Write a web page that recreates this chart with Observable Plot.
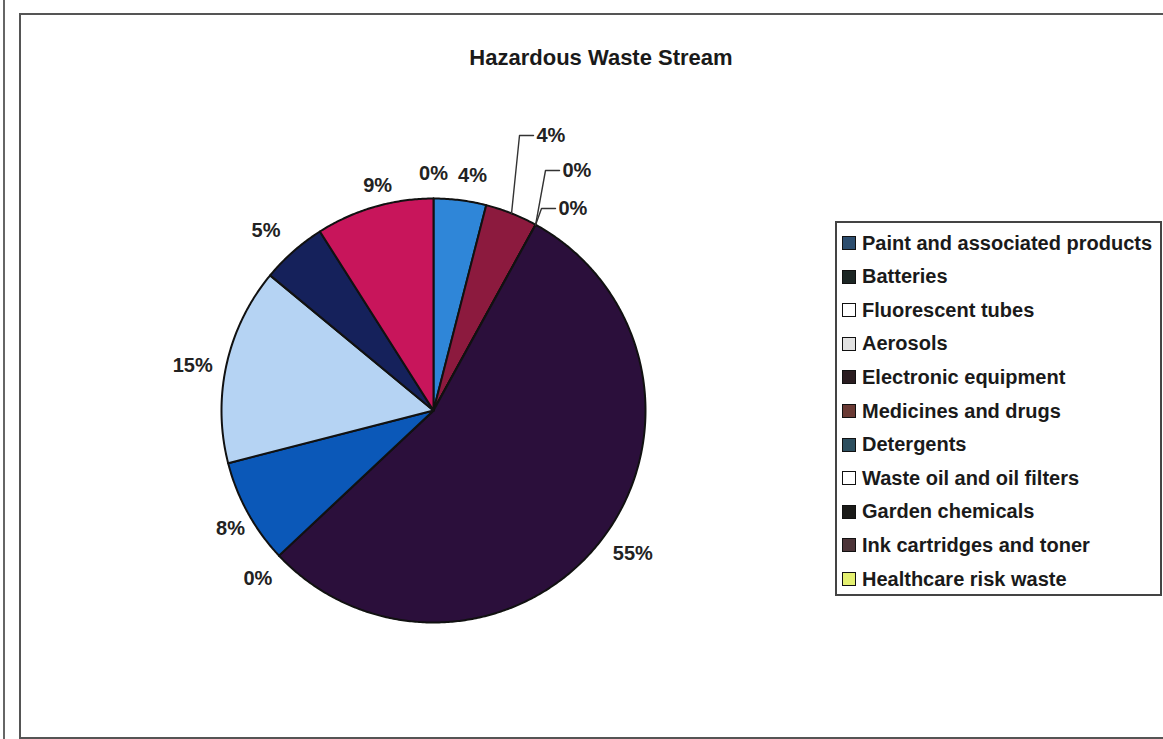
<!DOCTYPE html>
<html>
<head>
<meta charset="utf-8">
<script src="https://cdn.jsdelivr.net/npm/d3@7"></script>
<script src="https://cdn.jsdelivr.net/npm/@observablehq/plot@0.6"></script>
<style>
  html, body { margin: 0; padding: 0; background: #fff; }
  body { font-family: "Liberation Sans", Arial, sans-serif; }
  #wrap { position: relative; width: 1163px; height: 739px; overflow: hidden; background: #fff; }
  #leftline { position: absolute; left: 3px; top: 0; width: 0; height: 739px; border-left: 2px solid #666; }
  #box { position: absolute; left: 19px; top: 13px; width: 1200px; height: 722px; border-left: 2px solid #555; border-top: 2px solid #555; border-bottom: 2px solid #555; }
  #title { position: absolute; left: 0; width: 1202px; top: 45px; text-align: center; font-weight: bold; font-size: 22px; color: #1a1a1a; }
  #chart { position: absolute; left: 0; top: 0; }
  #legend { position: absolute; left: 835px; top: 221px; width: 323px; height: 371px; border: 2px solid #444; background: #fff; }
  .row { position: absolute; left: 5px; height: 34px; display: flex; align-items: center; font-weight: bold; font-size: 20px; color: #1a1a1a; white-space: nowrap; }
  .sw { width: 12px; height: 12px; margin-right: 6px; border: 1.5px solid #111; box-sizing: content-box; }
</style>
</head>
<body>
<div id="wrap">
  <div id="leftline"></div>
  <div id="box"></div>
  <div id="chart"></div>
  <div id="title">Hazardous Waste Stream</div>
  <div id="legend"></div>
</div>
<script>
// ---- data ----
const categories = [
  "Paint and associated products",
  "Batteries",
  "Fluorescent tubes",
  "Aerosols",
  "Electronic equipment",
  "Medicines and drugs",
  "Detergents",
  "Waste oil and oil filters",
  "Garden chemicals",
  "Ink cartridges and toner",
  "Healthcare risk waste"
];
const shares = [0, 4, 4, 0, 0, 55, 0, 8, 15, 5, 9];
const shareLabels = ["0%", "4%", "4%", "0%", "0%", "55%", "0%", "8%", "15%", "5%", "9%"];
const sliceColors = ["#2a4a6c", "#2f86d8", "#8c1a3e", "#d8d8d8", "#2a1a24", "#2b0f3b", "#2a4a5c", "#0b58b8", "#b5d3f3", "#15215b", "#c8155b"];
const legendColors = ["#2c4d6e", "#1c2624", "#ffffff", "#e2e2e2", "#2a1c20", "#6a3a34", "#2c4e5e", "#ffffff", "#1a1a18", "#4c3438", "#e4f070"];

// ---- layout constants ----
const W = 1163, H = 739, CX = 433, CY = 410, R = 212;
const labelRadius = 1.13;
const calloutIdx = [2, 3, 4];
// elbow offsets (px from pie centre) for the small slices labelled with leader lines
const calloutElbow = {2: [86, -275], 3: [112, -240], 4: [108, -202]};
const calloutLen = 14;
// small label nudges (px) mimicking the spreadsheet's label placement
const labelNudge = {0: [0, 3], 1: [9, 3], 5: [10, -4], 6: [-1, 4], 7: [7, 3], 8: [-7, 7], 9: [-9, 0], 10: [11, 5]};

// ---- geometry from data ----
const table = categories.map((name, i) => ({name, value: shares[i], label: shareLabels[i], i}));
const arcs = d3.pie().sort(null).value(d => d.value).startAngle(0).endAngle(2 * Math.PI)(table);

const slicePts = [];
arcs.forEach(a => {
  const name = a.data.name;
  slicePts.push({name, x: 0, y: 0});
  const span = a.endAngle - a.startAngle;
  const n = Math.max(1, Math.ceil(span / (Math.PI / 360)));
  for (let k = 0; k <= n; k++) {
    const t = a.startAngle + span * k / n;
    slicePts.push({name, x: Math.sin(t), y: Math.cos(t)});
  }
});

const labels = [], calloutLabels = [], leaderPts = [];
arcs.forEach(a => {
  const i = a.data.i;
  const mid = (a.startAngle + a.endAngle) / 2;
  if (calloutIdx.includes(i)) {
    const [ex, ey] = calloutElbow[i];
    const edge = {x: Math.sin(mid) * 1.0, y: Math.cos(mid) * 1.0};
    const elbow = {x: ex / R, y: -ey / R};
    const end = {x: (ex + calloutLen) / R, y: -ey / R};
    leaderPts.push({name: a.data.name, ...edge}, {name: a.data.name, ...elbow}, {name: a.data.name, ...end});
    calloutLabels.push({x: end.x + 3 / R, y: end.y, text: a.data.label});
  } else {
    const [nx, ny] = labelNudge[i] || [0, 0];
    labels.push({
      x: Math.sin(mid) * labelRadius + nx / R,
      y: Math.cos(mid) * labelRadius - ny / R,
      text: a.data.label
    });
  }
});

const chart = Plot.plot({
  width: W,
  height: H,
  margin: 0,
  style: {background: "transparent", fontFamily: "Liberation Sans, Arial, sans-serif"},
  x: {domain: [-CX / R, (W - CX) / R], range: [0, W], axis: null},
  y: {domain: [(CY - H) / R, CY / R], range: [H, 0], axis: null},
  color: {domain: categories, range: sliceColors},
  marks: [
    Plot.line(slicePts, {x: "x", y: "y", z: "name", fill: "name", stroke: "#111", strokeWidth: 2, curve: "linear-closed", strokeLinejoin: "round"}),
    Plot.line(leaderPts, {x: "x", y: "y", z: "name", stroke: "#333", strokeWidth: 1.4}),
    Plot.text(labels, {x: "x", y: "y", text: "text", fontSize: 20, fontWeight: "bold", fill: "#222", textAnchor: "middle"}),
    Plot.text(calloutLabels, {x: "x", y: "y", text: "text", fontSize: 20, fontWeight: "bold", fill: "#222", textAnchor: "start"})
  ]
});
document.getElementById("chart").appendChild(chart);

// ---- legend ----
const legend = document.getElementById("legend");
categories.forEach((name, i) => {
  const row = document.createElement("div");
  row.className = "row";
  row.style.top = (3 + i * 33.6) + "px";
  const sw = document.createElement("span");
  sw.className = "sw";
  sw.style.background = legendColors[i];
  const tx = document.createElement("span");
  tx.textContent = name;
  row.appendChild(sw);
  row.appendChild(tx);
  legend.appendChild(row);
});
</script>
</body>
</html>
